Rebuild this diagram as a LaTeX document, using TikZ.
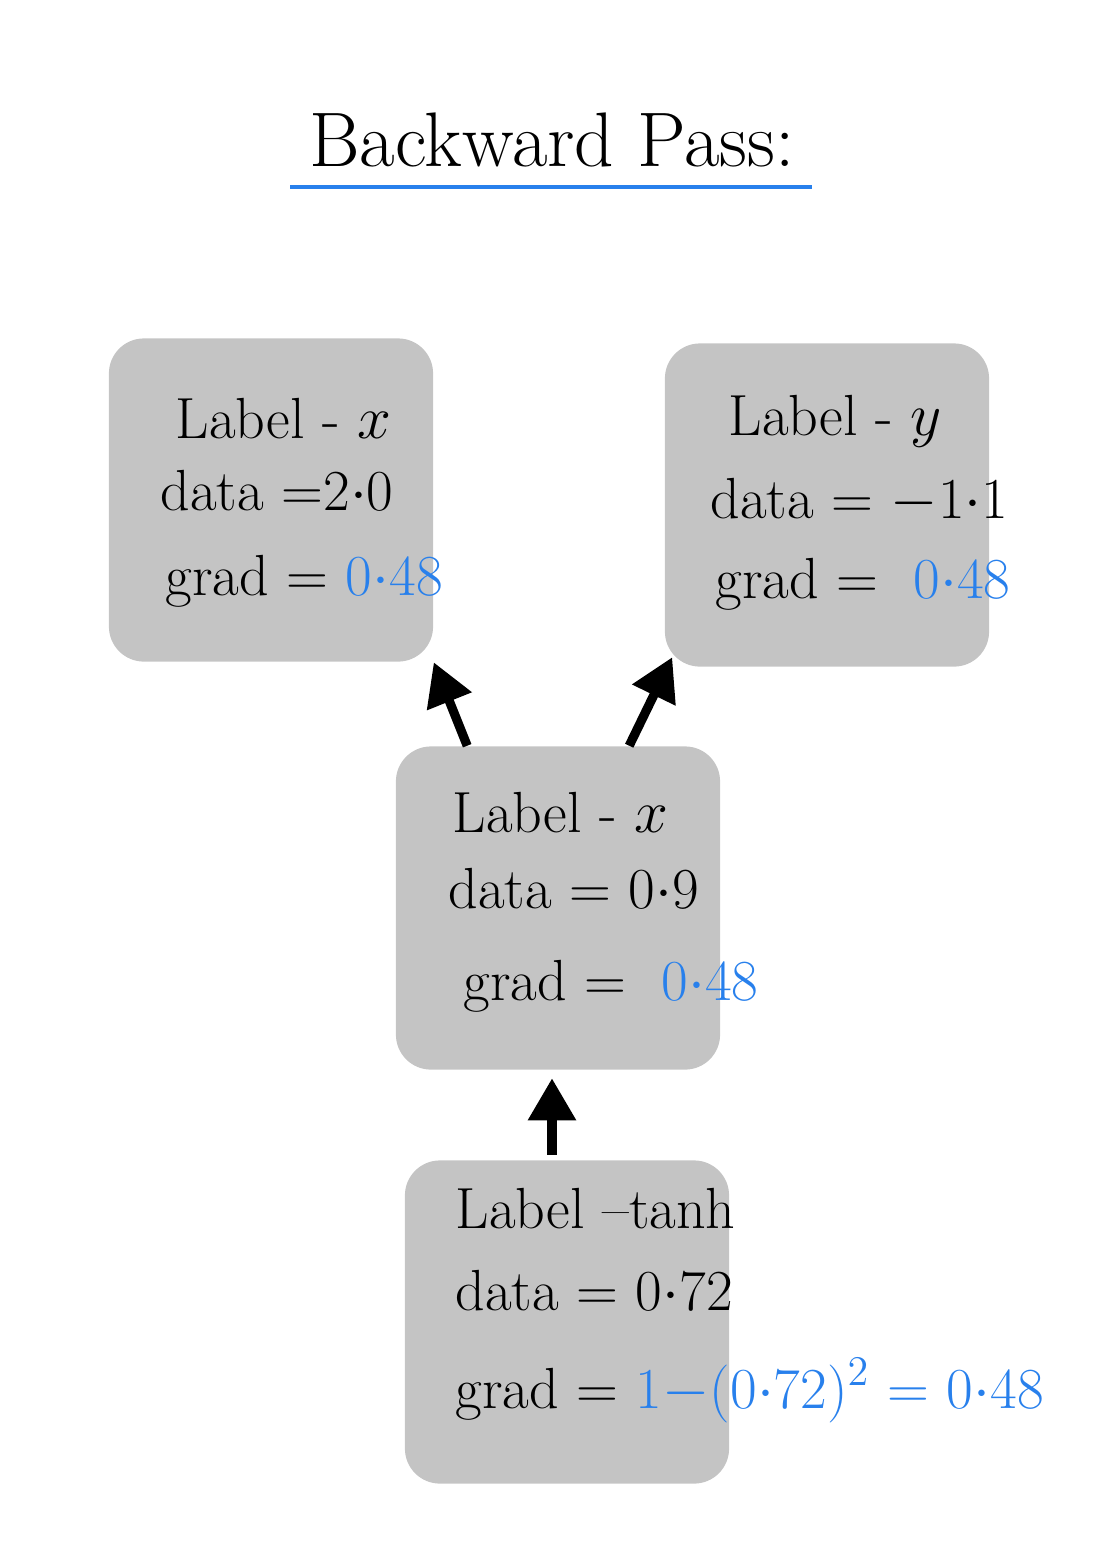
\documentclass[tikz,border=0pt]{standalone}
\usetikzlibrary{calc}
\usetikzlibrary{arrows.meta, positioning}
\definecolor{boxgray}{RGB}{196,196,196}
\definecolor{gradblue}{RGB}{40,128,236}
\newcommand{\pdot}{\ensuremath{\cdot}}

\begin{document}
\begin{tikzpicture}[x=0.01cm, y=-0.01cm]
 \tikzstyle{vbox}=[rectangle, rounded corners=0.35cm, fill=boxgray, minimum width=3.24cm, minimum height=3.23cm, inner sep=0pt]
 \tikzstyle{txt}=[anchor=base west, inner sep=0pt, font=\fontsize{16.5}{20}\selectfont]
 \tikzstyle{line}=[draw, line width=2.6pt, -{Triangle[length=0.42cm, width=0.46cm]}]

 \useasboundingbox (0,0) rectangle (1112,1562);

 % title
 \node[anchor=base, inner sep=0pt, font=\fontsize{22}{26}\selectfont] (title) at (552,166) {Backward Pass:};
 \draw[gradblue, line width=1.1pt] (290,187) -- (812,187);

 % leaf x
 \begin{scope}[shift={(271,500)}]
  \node[vbox] (leafx) at (0,0) {};
  \node[txt] (leafx-label) at (-96,-62) {Label - $x$};
  \node[txt] (leafx-data) at (-111,10) {data =2\pdot0};
  \node[txt] (leafx-grad) at (-106,95) {grad = {\color{gradblue}0\pdot48}};
 \end{scope}

 % leaf y
 \begin{scope}[shift={(827,505)}]
  \node[vbox] (leafy) at (0,0) {};
  \node[txt] (leafy-label) at (-99,-70) {Label - $y$};
  \node[txt] (leafy-data) at (-117,13) {data = $-$1\pdot1};
  \node[txt] (leafy-grad) at (-112,93) {grad = \ {\color{gradblue}0\pdot48}};
 \end{scope}

 % x
 \begin{scope}[shift={(558,908)}]
  \node[vbox] (nodex) at (0,0) {};
  \node[txt] (nodex-label) at (-106,-76) {Label - $x$};
  \node[txt] (nodex-data) at (-110,0) {data = 0\pdot9};
  \node[txt] (nodex-grad) at (-95,92) {grad = \ {\color{gradblue}0\pdot48}};
 \end{scope}

 % tanh
 \begin{scope}[shift={(567,1322)}]
  \node[vbox] (nodetanh) at (0,0) {};
  \node[txt] (nodetanh-label) at (-112,-94) {Label --tanh};
  \node[txt] (nodetanh-data) at (-112,-12) {data = 0\pdot72};
  \node[txt] (nodetanh-grad) at (-112,86) {grad = {\color{gradblue}1$-$(0\pdot72)$^2$ = 0\pdot48}};
 \end{scope}

 \path [line] ($(nodex.north west)+(72,0)$) -- (leafx.south east);
 \path [line] ($(nodex.north west)+(234,0)$) -- ($(leafy.south west)+(8,-10)$);
 \path [line] ($(nodetanh.north)+(-15,-5)$) -- ($(nodex.south)+(-6,8)$);

\end{tikzpicture}
\end{document}
